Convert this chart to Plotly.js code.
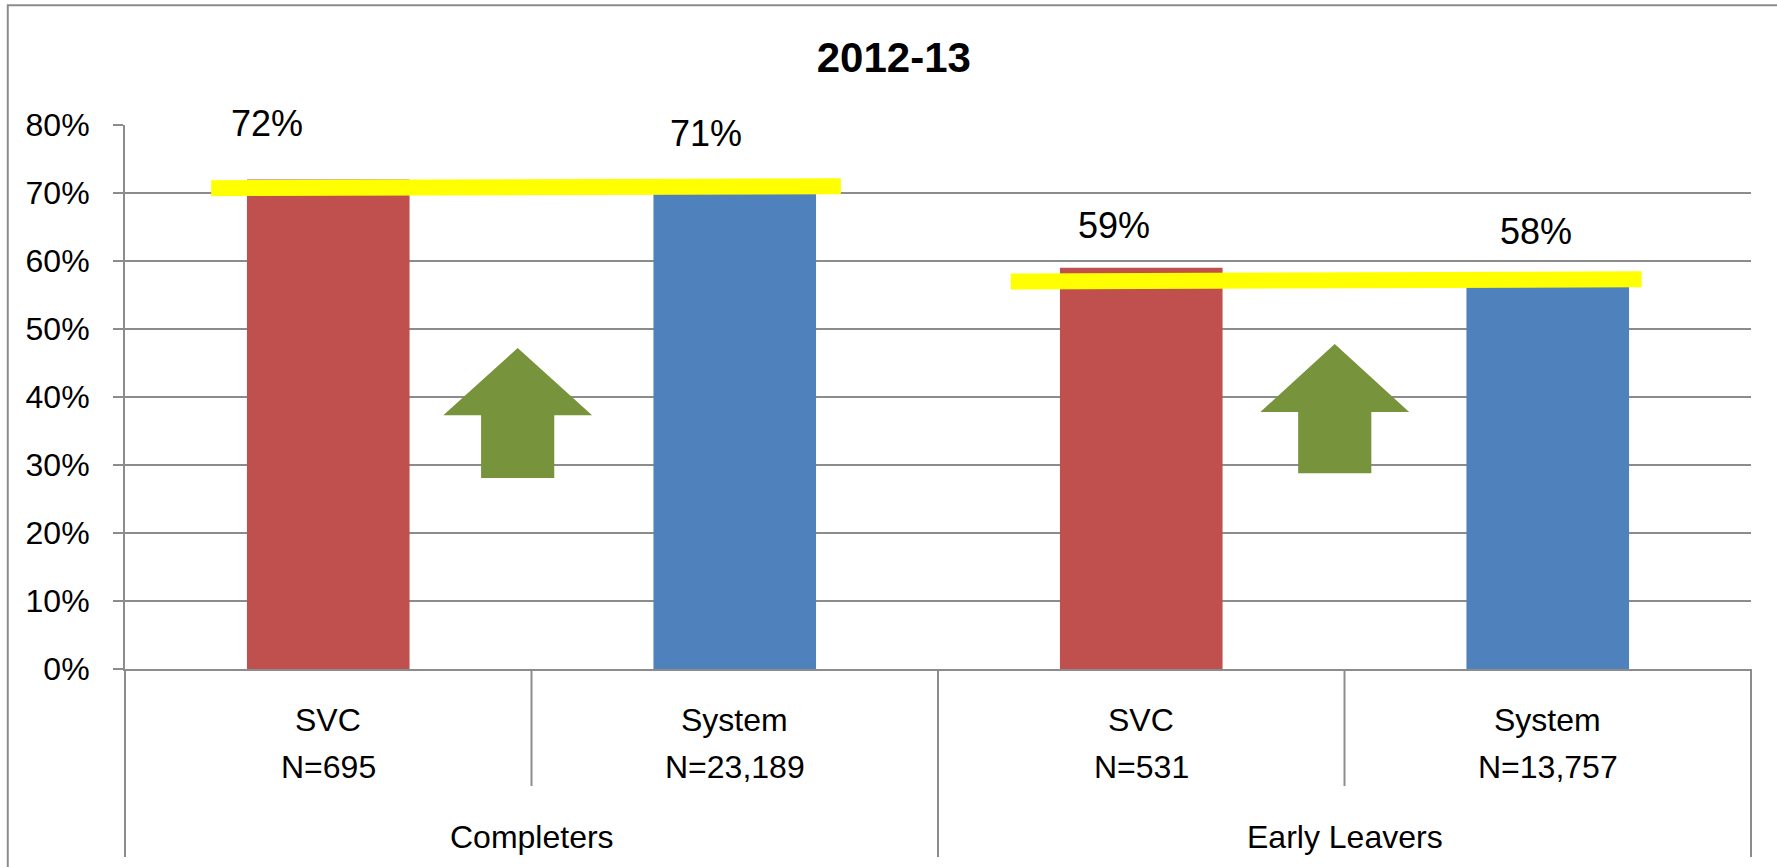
<!DOCTYPE html>
<html>
<head>
<meta charset="utf-8">
<script src="https://cdn.plot.ly/plotly-3.0.1.min.js"></script>
<style>html,body{margin:0;padding:0;background:#fff;}#chart{width:1777px;height:867px;}</style>
</head>
<body>
<div id="chart"></div>
<script>
// ---- data ----
const groups = ['Completers', 'Completers', 'Early Leavers', 'Early Leavers'];
const subgroups = ['SVC', 'System', 'SVC', 'System'];
const counts = ['N=695', 'N=23,189', 'N=531', 'N=13,757'];
const values = [72, 71, 59, 58];
const valueLabels = ['72%', '71%', '59%', '58%'];
const barColors = ['#C0504D', '#4F81BD', '#C0504D', '#4F81BD'];
const yTickValues = [0, 10, 20, 30, 40, 50, 60, 70, 80];
const yTickLabels = ['0%', '10%', '20%', '30%', '40%', '50%', '60%', '70%', '80%'];
// yellow highlight lines (level at left end, level at right end, category-index span)
const highlightLeft = [70.7, 57.0];
const highlightRight = [71.0, 57.3];
const highlightFrom = [-0.288, 1.679];
const highlightTo = [1.261, 3.231];
// green up arrows (category-index centre, bottom, head base, tip levels)
const arrowCenter = [0.466, 2.476];
const arrowBottom = [28.1, 28.8];
const arrowHeadBase = [37.3, 37.8];
const arrowTip = [47.2, 47.8];

// ---- build ----
const keys = subgroups.map((s, i) => s + ' ' + counts[i]);
const font = 'Liberation Sans, Arial, sans-serif';
const gray = '#8c8c8c';

const trace = {
  type: 'bar', x: keys, y: values,
  marker: {color: barColors, line: {width: 0}},
  hoverinfo: 'none', showlegend: false
};

const shapes = [];
// outer chart border
shapes.push({type: 'rect', xref: 'paper', yref: 'paper', x0: -0.0721, x1: 1.2, y0: -0.6, y1: 1.2199,
  line: {color: gray, width: 2}, fillcolor: 'rgba(0,0,0,0)', layer: 'below'});
// category dividers
const n = keys.length;
for (let k = 0; k <= n; k++) {
  const outer = (k === 0 || k === n || groups[k] !== groups[k - 1]);
  shapes.push({type: 'line', xref: 'paper', yref: 'paper', ysizemode: 'pixel', yanchor: 0,
    x0: k / n, x1: k / n, y0: 0, y1: outer ? -188 : -117,
    line: {color: gray, width: 2}});
}
// yellow lines
for (let i = 0; i < highlightLeft.length; i++) {
  shapes.push({type: 'line', xref: 'x', yref: 'y', x0: highlightFrom[i], x1: highlightTo[i],
    y0: highlightLeft[i], y1: highlightRight[i], line: {color: '#FFFF00', width: 16}});
}
// arrows
const halfHead = 0.183, halfShaft = 0.09;
for (let i = 0; i < arrowCenter.length; i++) {
  const c = arrowCenter[i];
  const p = [
    [c - halfShaft, arrowBottom[i]], [c - halfShaft, arrowHeadBase[i]], [c - halfHead, arrowHeadBase[i]],
    [c, arrowTip[i]], [c + halfHead, arrowHeadBase[i]], [c + halfShaft, arrowHeadBase[i]],
    [c + halfShaft, arrowBottom[i]]
  ];
  const path = 'M' + p.map(q => q[0].toFixed(4) + ',' + q[1].toFixed(3)).join(' L') + ' Z';
  shapes.push({type: 'path', xref: 'x', yref: 'y', path: path, fillcolor: '#77933C',
    line: {width: 0}});
}

const annotations = [];
// data labels (hand-placed in the original)
const labelXShift = [-61, -29, -27, -12];
const labelYShift = [56, 53, 42, 43];
values.forEach((v, i) => {
  annotations.push({x: keys[i], y: v, xref: 'x', yref: 'y', text: valueLabels[i], showarrow: false,
    xanchor: 'center', yanchor: 'middle', xshift: labelXShift[i], yshift: labelYShift[i],
    font: {family: font, size: 36, color: '#000'}});
});
// category labels
keys.forEach((k, i) => {
  annotations.push({x: k, y: 0, xref: 'x', yref: 'paper', text: subgroups[i], showarrow: false,
    yanchor: 'middle', yshift: -51, font: {family: font, size: 32, color: '#000'}});
  annotations.push({x: k, y: 0, xref: 'x', yref: 'paper', text: counts[i], showarrow: false,
    yanchor: 'middle', yshift: -98, font: {family: font, size: 32, color: '#000'}});
});
// group labels
const uniqueGroups = [...new Set(groups)];
uniqueGroups.forEach(g => {
  const idx = groups.map((x, i) => x === g ? i : -1).filter(i => i >= 0);
  const mid = (idx[0] + idx[idx.length - 1]) / 2;
  annotations.push({x: mid, y: 0, xref: 'x', yref: 'paper', text: g, showarrow: false,
    yanchor: 'middle', yshift: -168, font: {family: font, size: 32, color: '#000'}});
});

const layout = {
  width: 1777, height: 867,
  margin: {l: 125, r: 26, t: 125, b: 198, pad: 0},
  paper_bgcolor: '#fff', plot_bgcolor: '#fff',
  font: {family: font, color: '#000'},
  title: {text: '<b>2012-13</b>', font: {family: font, size: 42, color: '#000'},
    x: 0.503, xanchor: 'center', y: 0.934, yanchor: 'middle'},
  bargap: 0.6,
  xaxis: {type: 'category', categoryorder: 'array', categoryarray: keys,
    showticklabels: false, ticks: '', showgrid: false, zeroline: false,
    showline: true, linecolor: gray, linewidth: 2, fixedrange: true},
  yaxis: {range: [0, 80], tickvals: yTickValues, ticktext: yTickLabels,
    showgrid: true, gridcolor: gray, gridwidth: 2, zeroline: false,
    showline: true, linecolor: gray, linewidth: 2,
    ticks: 'outside', ticklen: 10, tickwidth: 2, tickcolor: gray,
    ticklabelstandoff: 17,
    tickfont: {family: font, size: 32, color: '#000'}, fixedrange: true},
  shapes: shapes,
  annotations: annotations
};

Plotly.newPlot('chart', [trace], layout, {displayModeBar: false, staticPlot: true});
</script>
</body>
</html>
